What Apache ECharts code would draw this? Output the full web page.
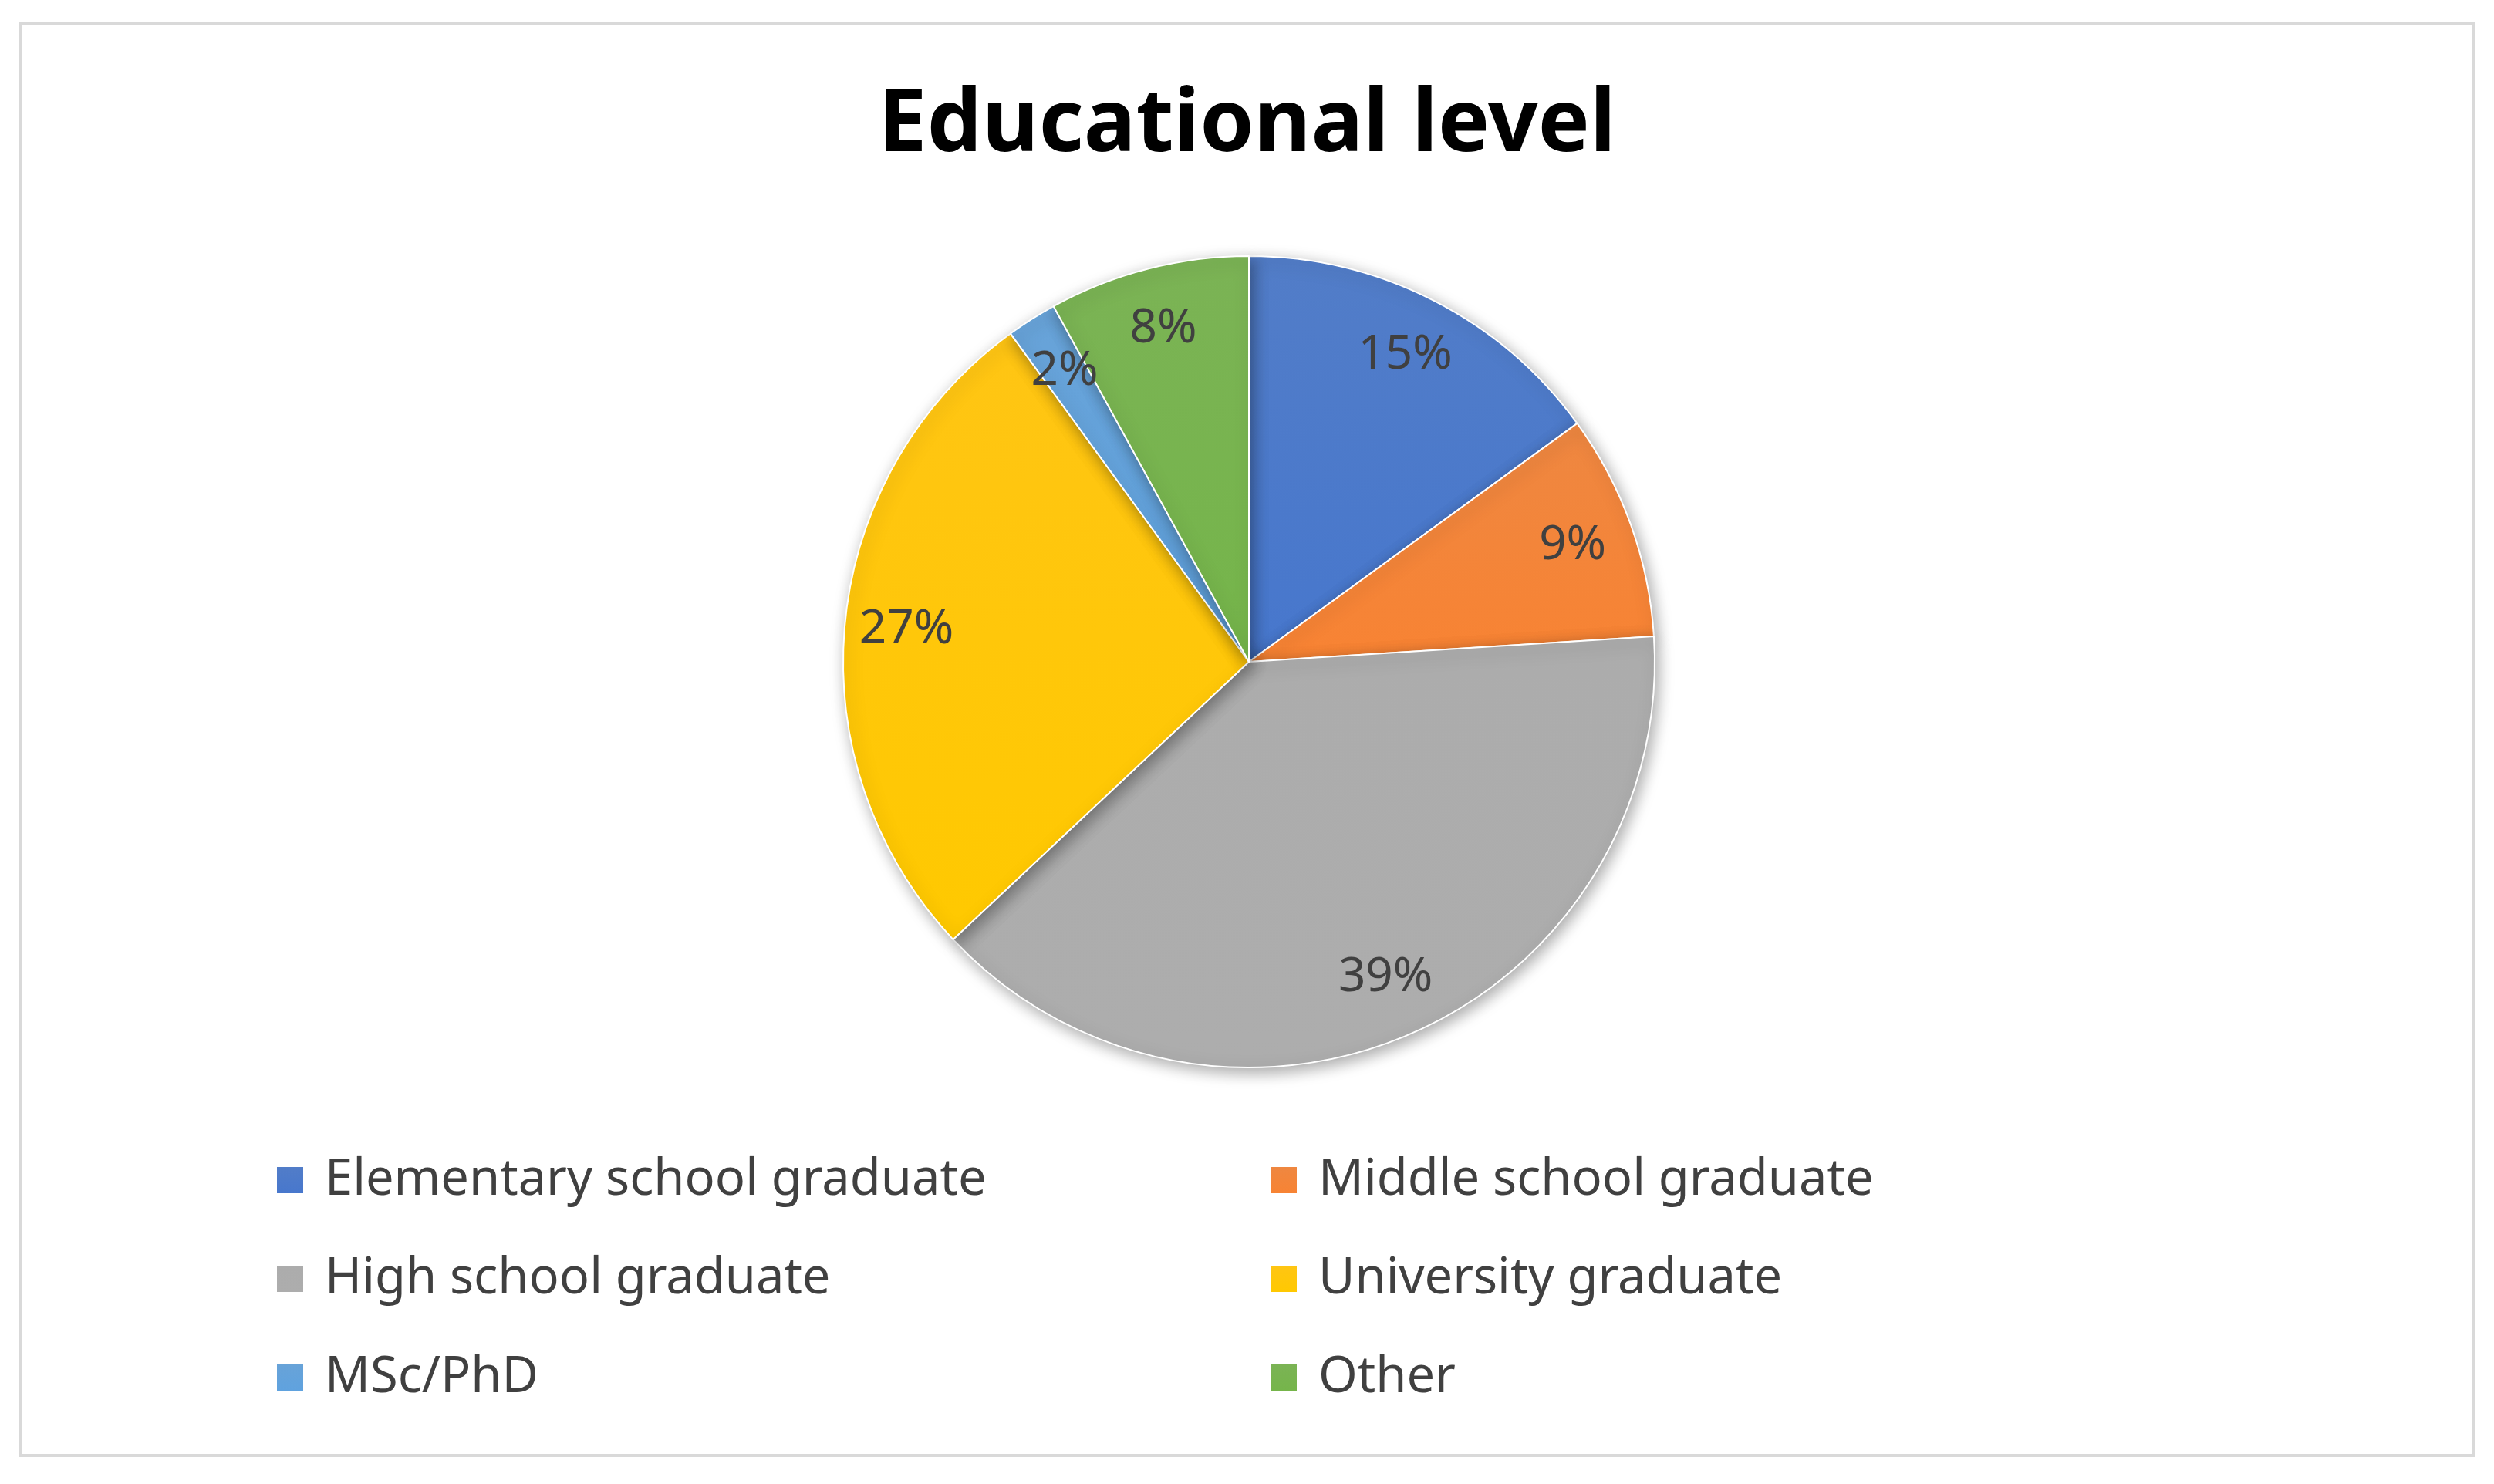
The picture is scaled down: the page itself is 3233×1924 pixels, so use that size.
<!DOCTYPE html>
<html><head><meta charset="utf-8">
<script src="https://cdn.jsdelivr.net/npm/echarts@6/dist/echarts.min.js"></script>
<style>html,body{margin:0;padding:0;background:#fff}#c{width:3233px;height:1924px}</style>
</head><body><div id="c"></div>
<script>
const categories = ['Elementary school graduate','Middle school graduate','High school graduate','University graduate','MSc/PhD','Other'];
const values = [15, 9, 39, 27, 2, 8];
const colors = ['#4472C4','#ED7D31','#A5A5A5','#FFC000','#5B9BD5','#70AD47'];
const data = categories.map((n,i)=>({name:n,value:values[i],itemStyle:{color:new echarts.graphic.LinearGradient(0,0,0,1,[{offset:0,color:echarts.color.lift(colors[i],0.08)},{offset:1,color:echarts.color.lift(colors[i],-0.05)}])}}));
const chart = echarts.init(document.getElementById('c'));
const font = '"Noto Sans", sans-serif';
const legendText = {fontSize:65, color:'#404040', fontFamily:font, lineHeight:70, padding:[0,0,0,22]};
chart.setOption({
  color: colors,
  animation:false,
  graphic:[{type:'rect',shape:{x:27,y:31,width:3179,height:1856},style:{fill:'none',stroke:'#d9d9d9',lineWidth:4}}],
  title:{text:'Educational level',left:'center',top:102,textStyle:{fontSize:113,fontWeight:'bold',color:'#000',fontFamily:font}},
  legend:[
    {orient:'vertical',left:352,top:1490,itemWidth:36,itemHeight:36,itemGap:58,icon:'rect',data:[categories[0],categories[2],categories[4]],textStyle:legendText,selectedMode:false},
    {orient:'vertical',left:1640,top:1490,itemWidth:36,itemHeight:36,itemGap:58,icon:'rect',data:[categories[1],categories[3],categories[5]],textStyle:legendText,selectedMode:false}
  ],
  series:[
    {type:'pie',center:[1619,858],radius:[0,526],startAngle:90,clockwise:true,data:data,
     label:{show:false},labelLine:{show:false},
     itemStyle:{borderColor:'#fff',borderWidth:2,shadowBlur:20,shadowColor:'rgba(0,0,0,0.35)',shadowOffsetX:4,shadowOffsetY:6}},
    {type:'pie',center:[1619,858],radius:[360,526],startAngle:90,clockwise:true,silent:true,
     data:categories.map((n,i)=>({name:n,value:values[i]})),
     itemStyle:{color:'rgba(0,0,0,0)'},
     label:{show:true,position:'inside',formatter:'{c}%',fontSize:62,color:'#404040',fontFamily:font},labelLine:{show:false},legendHoverLink:false}
  ]
});
</script></body></html>
